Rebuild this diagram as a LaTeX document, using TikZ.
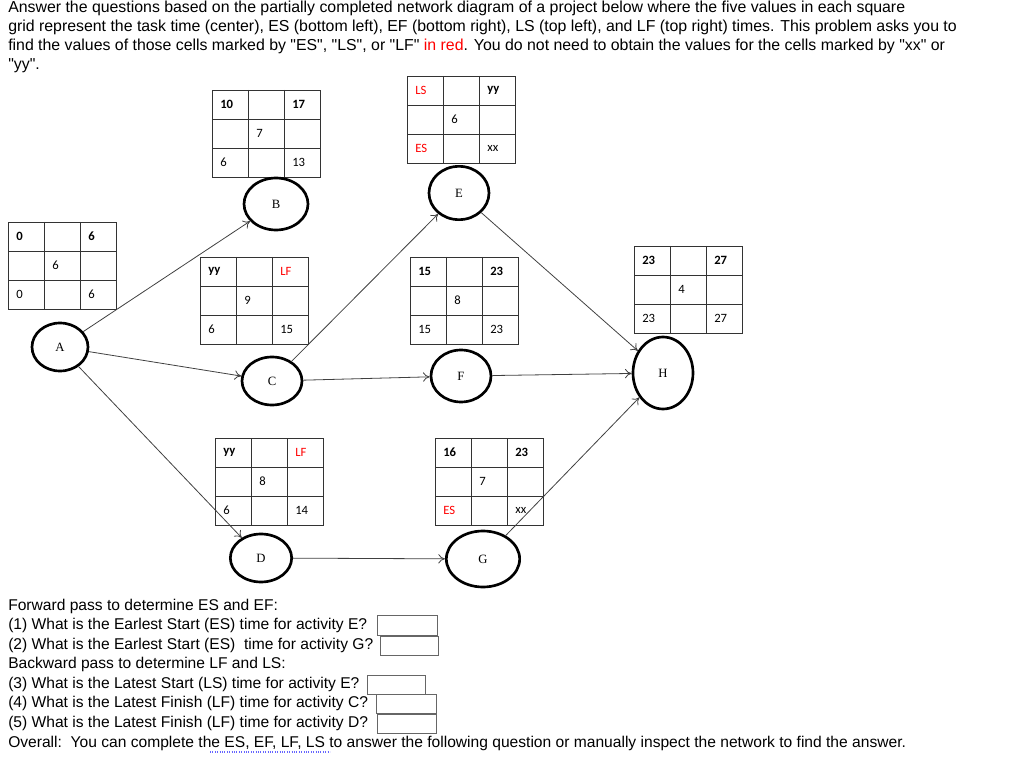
\documentclass[tikz,border=0pt]{standalone}
\usepackage{fontspec}
\setmainfont{Liberation Sans}
\newfontfamily\calfont{Carlito}
\newfontfamily\serfont{Liberation Serif}
\usetikzlibrary{arrows.meta,calc,shapes.geometric}
\tikzset{
  ev/.style={draw=black,line width=2pt,ellipse,inner sep=0pt,font=\serfont\fontsize{9.5}{11}\selectfont},
  conn/.style={draw=black!75,line width=0.6pt,-{To[length=5pt,width=7pt]}},
  celltxt/.style={anchor=west,inner sep=0pt,font=\calfont\fontsize{9.5}{11}\selectfont},
  qline/.style={anchor=west,inner sep=0pt,font=\fontsize{11.7}{13}\selectfont},
  abox/.style={draw=black!60,line width=0.5pt}
}
\newcommand{\q}{\textquotedbl}
\newcommand{\pgrid}[3]{%
  \draw[black!80,line width=0.6pt] (#1,#2) rectangle ++(108,87);
  \foreach \k in {1,2}{
    \draw[black!80,line width=0.6pt] ($(#1,#2)+(36*\k,0)$) -- ++(0,87);
    \draw[black!80,line width=0.6pt] ($(#1,#2)+(0,29*\k)$) -- ++(108,0);}
  \foreach \t [count=\i from 0] in {#3}{
    \pgfmathtruncatemacro{\cc}{mod(\i,3)}
    \pgfmathtruncatemacro{\rr}{int(\i/3)}
    \node[celltxt] at ($(#1,#2)+(36*\cc+8,29*\rr+14.5)$) {\t};}
}
\begin{document}
\begin{tikzpicture}[x=0.75pt,y=-0.75pt]
\useasboundingbox (0,0) rectangle (1024,759);
\node[anchor=north west,inner sep=0pt,align=left,font=\fontsize{11.9}{14.3}\selectfont] (intro) at (8,1)
 {Answer the questions based on the partially completed network diagram of a project below where the five values in each square\\
 grid represent the task time (center), ES (bottom left), EF (bottom right), LS (top left), and LF (top right) times.  This problem asks you to\\
 find the values of those cells marked by \q ES\q, \q LS\q, or \q LF\q\ {\color{red}in red}.  You do not need to obtain the values for the cells marked by \q xx\q\ or\\
 \q yy\q.};
% grids
\pgrid{8}{222}{{\textbf{0}},{},{\textbf{6}},{},6,{},0,{},6}
\pgrid{212}{90}{{\textbf{10}},{},{\textbf{17}},{},7,{},6,{},13}
\pgrid{200}{257}{{\textbf{yy}},{},{\color{red}LF},{},9,{},6,{},15}
\pgrid{407}{76}{{\color{red}LS},{},{\textbf{yy}},{},6,{},{\color{red}ES},{},xx}
\pgrid{410}{257}{{\textbf{15}},{},{\textbf{23}},{},8,{},15,{},23}
\pgrid{634}{246}{{\textbf{23}},{},{\textbf{27}},{},4,{},23,{},27}
\pgrid{215}{438}{{\textbf{yy}},{},{\color{red}LF},{},8,{},6,{},14}
\pgrid{435}{438}{{\textbf{16}},{},{\textbf{23}},{},7,{},{\color{red}ES},{},xx}
% events
\node[ev,minimum width=42pt,minimum height=36pt] (A) at (60,347) {A};
\node[ev,minimum width=48pt,minimum height=39pt] (B) at (276,204) {B};
\node[ev,minimum width=45pt,minimum height=40pt] (E) at (459,193) {E};
\node[ev,minimum width=45pt,minimum height=36pt] (C) at (272,381) {C};
\node[ev,minimum width=45pt,minimum height=39pt] (F) at (461,376) {F};
\node[ev,minimum width=45pt,minimum height=54pt] (H) at (663,373) {H};
\node[ev,minimum width=46pt,minimum height=36pt] (D) at (261,558) {D};
\node[ev,minimum width=55pt,minimum height=42pt] (G) at (483,559) {G};
% connectors
\draw[conn] (A) -- (B);
\draw[conn] (A) -- (C);
\draw[conn] (A) -- (D);
\draw[conn] (C) -- (E);
\draw[conn] (C) -- (F);
\draw[conn] (E) -- (H);
\draw[conn] (F) -- (H);
\draw[conn] (D) -- (G);
\draw[conn] (G) -- (H);
% questions
\node[qline] (q0) at (8,606) {Forward pass to determine ES and EF:};
\node[qline] (q1) at (8,625) {(1) What is the Earlest Start (ES) time for activity E?};
\node[qline] (q2) at (8,645) {(2) What is the Earlest Start (ES)\ \ time for activity G?};
\node[qline] (q3) at (8,664) {Backward pass to determine LF and LS:};
\node[qline] (q4) at (8,684) {(3) What is the Latest Start (LS) time for activity E?};
\node[qline] (q5) at (8,703) {(4) What is the Latest Finish (LF) time for activity C?};
\node[qline] (q6) at (8,723) {(5) What is the Latest Finish (LF) time for activity D?};
\node[qline] (q7) at (8,743) {Overall:\ \ You can complete the ES, EF, LF, LS to answer the following question or manually inspect the network to find the answer.};
\draw[abox] (377,615) rectangle (437,635);
\draw[abox] (380,636) rectangle (438,655);
\draw[abox] (367,675) rectangle (425,694);
\draw[abox] (376,694) rectangle (436,713);
\draw[abox] (377,714) rectangle (436,733);
\draw[blue!60,densely dotted,line width=0.8pt] (210,752) -- (330,752);
\end{tikzpicture}
\end{document}
